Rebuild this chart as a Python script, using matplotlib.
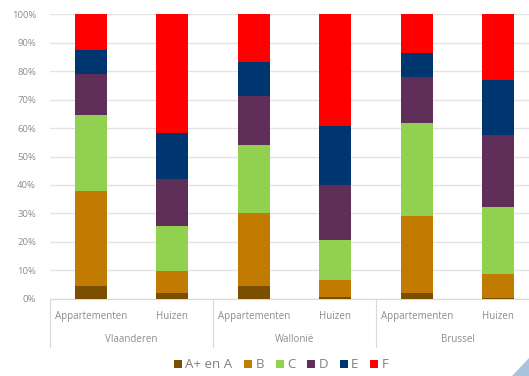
import numpy as np
import matplotlib.pyplot as plt
from matplotlib.patches import Polygon

plt.rcParams['font.family'] = ['Open Sans', 'DejaVu Sans']

# categories
regions = ["Vlaanderen", "Wallonië", "Brussel"]
types = ["Appartementen", "Huizen"]
labels = ["A+ en A", "B", "C", "D", "E", "F"]

# share per energy label (%), order of bars: V-App, V-Huis, W-App, W-Huis, B-App, B-Huis
a_plus = [4.6, 2.1, 4.5, 0.5, 1.9, 0.3]
b = [33.3, 7.5, 25.5, 6.1, 27.2, 8.5]
c = [26.6, 16.0, 24.0, 14.0, 32.6, 23.5]
d = [14.5, 16.6, 17.4, 19.4, 16.4, 25.4]
e = [8.4, 16.2, 11.8, 20.7, 8.3, 19.3]
f = [12.6, 41.6, 16.8, 39.3, 13.6, 23.0]

colors = ["#7a4f00", "#c07b00", "#92d050", "#5f2f5a", "#00366f", "#ff0000"]
series = [a_plus, b, c, d, e, f]
txt = "#8c8c8c"

fig = plt.figure(figsize=(5.29, 3.76), dpi=100)
ax = fig.add_axes([50/529, 1-298.7/376, 489/529, 284.4/376])

x = np.arange(6)
bottom = np.zeros(6)
for vals, col, lab in zip(series, colors, labels):
    ax.bar(x, vals, 0.39, bottom=bottom, color=col, label=lab, zorder=3)
    bottom += np.array(vals)

ax.set_xlim(-0.5, 5.5)
ax.set_ylim(0, 100)
ax.set_yticks(np.arange(0, 101, 10))
ax.set_yticklabels([f"{v}%" for v in range(0, 101, 10)], fontsize=6.8, color=txt)
ax.tick_params(axis='y', length=0, pad=10)
ax.yaxis.grid(True, color="#e3e3e3", linewidth=1)
ax.set_xticks([])
for s in ["top", "right", "left"]:
    ax.spines[s].set_visible(False)
ax.spines["bottom"].set_color("#d9d9d9")

tr = ax.get_xaxis_transform()
for i in range(6):
    ax.text(x[i], -0.061, types[i % 2], transform=tr, ha='center', va='center',
            fontsize=7, color=txt)
for g, reg in enumerate(regions):
    ax.text(2*g + 0.5, -0.142, reg, transform=tr, ha='center', va='center',
            fontsize=7, color=txt)
for xs in [-0.5, 1.5, 3.5, 5.5]:
    ax.plot([xs, xs], [0, -0.169], transform=tr, color="#d9d9d9", lw=0.8, clip_on=False)

handles, labs = ax.get_legend_handles_labels()
fig.legend(handles, labs, loc='center', bbox_to_anchor=(281/529, 1-365/376), ncol=6,
           frameon=False, fontsize=9.5, labelcolor="#7f7f7f", handlelength=0.6, handleheight=0.6,
           handletextpad=0.25, columnspacing=0.9)

fig.patches.append(Polygon([[512/529, 0], [1, 0], [1, 1-358/376]], closed=True,
                           transform=fig.transFigure, color="#a9c3df", zorder=0))

fig.savefig("out.png", dpi=100)
